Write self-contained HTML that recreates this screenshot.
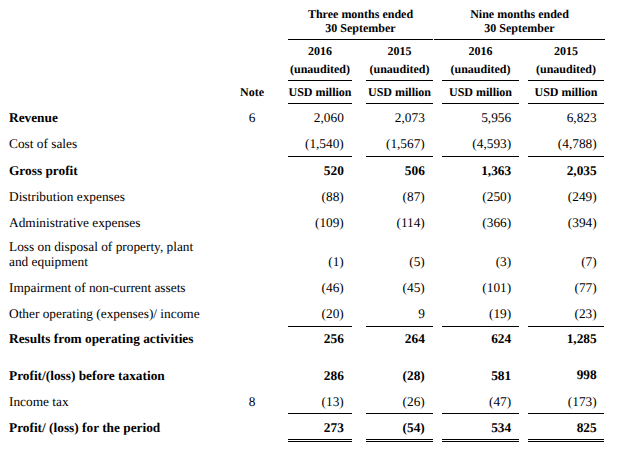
<!DOCTYPE html>
<html><head><meta charset="utf-8"><style>
html,body{margin:0;padding:0;background:#fff;}
body{width:621px;height:456px;position:relative;overflow:hidden;font-family:"Liberation Serif",serif;color:#000;}
.t{position:absolute;white-space:nowrap;text-rendering:geometricPrecision;}
.l{position:absolute;background:#000;}
</style></head><body>
<div class="t" style="top:6.8px;font-size:12px;line-height:14px;font-weight:bold;left:260.5px;width:200px;text-align:center;">Three months ended</div>
<div class="t" style="top:20.5px;font-size:12px;line-height:14px;font-weight:bold;left:260.5px;width:200px;text-align:center;">30 September</div>
<div class="t" style="top:6.8px;font-size:12px;line-height:14px;font-weight:bold;left:419.5px;width:200px;text-align:center;">Nine months ended</div>
<div class="t" style="top:20.5px;font-size:12px;line-height:14px;font-weight:bold;left:419.5px;width:200px;text-align:center;">30 September</div>
<div class="l" style="left:288px;top:39px;width:145px;height:1px"></div>
<div class="l" style="left:434px;top:39px;width:171px;height:1px"></div>
<div class="t" style="top:44px;font-size:12px;line-height:14px;font-weight:bold;left:220.0px;width:200px;text-align:center;">2016</div>
<div class="t" style="top:61.5px;font-size:12px;line-height:14px;font-weight:bold;left:220.0px;width:200px;text-align:center;">(unaudited)</div>
<div class="l" style="left:288px;top:80px;width:64px;height:1px"></div>
<div class="t" style="top:85px;font-size:12px;line-height:14px;font-weight:bold;left:220.0px;width:200px;text-align:center;">USD million</div>
<div class="l" style="left:288px;top:103px;width:64px;height:1px"></div>
<div class="t" style="top:44px;font-size:12px;line-height:14px;font-weight:bold;left:299.5px;width:200px;text-align:center;">2015</div>
<div class="t" style="top:61.5px;font-size:12px;line-height:14px;font-weight:bold;left:299.5px;width:200px;text-align:center;">(unaudited)</div>
<div class="l" style="left:366px;top:80px;width:67px;height:1px"></div>
<div class="t" style="top:85px;font-size:12px;line-height:14px;font-weight:bold;left:299.5px;width:200px;text-align:center;">USD million</div>
<div class="l" style="left:366px;top:103px;width:67px;height:1px"></div>
<div class="t" style="top:44px;font-size:12px;line-height:14px;font-weight:bold;left:380.5px;width:200px;text-align:center;">2016</div>
<div class="t" style="top:61.5px;font-size:12px;line-height:14px;font-weight:bold;left:380.5px;width:200px;text-align:center;">(unaudited)</div>
<div class="l" style="left:442px;top:80px;width:77px;height:1px"></div>
<div class="t" style="top:85px;font-size:12px;line-height:14px;font-weight:bold;left:380.5px;width:200px;text-align:center;">USD million</div>
<div class="l" style="left:442px;top:103px;width:77px;height:1px"></div>
<div class="t" style="top:44px;font-size:12px;line-height:14px;font-weight:bold;left:466.0px;width:200px;text-align:center;">2015</div>
<div class="t" style="top:61.5px;font-size:12px;line-height:14px;font-weight:bold;left:466.0px;width:200px;text-align:center;">(unaudited)</div>
<div class="l" style="left:528px;top:80px;width:76px;height:1px"></div>
<div class="t" style="top:85px;font-size:12px;line-height:14px;font-weight:bold;left:466.0px;width:200px;text-align:center;">USD million</div>
<div class="l" style="left:528px;top:103px;width:76px;height:1px"></div>
<div class="t" style="top:85px;font-size:12px;line-height:14px;font-weight:bold;left:152px;width:200px;text-align:center;">Note</div>
<div class="t" style="top:110px;font-size:13.33px;line-height:15px;font-weight:bold;left:9px;">Revenue</div>
<div class="t" style="top:110px;font-size:13.33px;line-height:15px;font-weight:normal;left:152px;width:200px;text-align:center;">6</div>
<div class="t" style="top:110px;font-size:13.33px;line-height:15px;font-weight:normal;right:277.2px;">2,060</div>
<div class="t" style="top:110px;font-size:13.33px;line-height:15px;font-weight:normal;right:196.2px;">2,073</div>
<div class="t" style="top:110px;font-size:13.33px;line-height:15px;font-weight:normal;right:109.8px;">5,956</div>
<div class="t" style="top:110px;font-size:13.33px;line-height:15px;font-weight:normal;right:24.3px;">6,823</div>
<div class="t" style="top:136px;font-size:13.33px;line-height:15px;font-weight:normal;left:9px;">Cost of sales</div>
<div class="t" style="top:136px;font-size:13.33px;line-height:15px;font-weight:normal;right:277.2px;">(1,540)</div>
<div class="t" style="top:136px;font-size:13.33px;line-height:15px;font-weight:normal;right:196.2px;">(1,567)</div>
<div class="t" style="top:136px;font-size:13.33px;line-height:15px;font-weight:normal;right:109.8px;">(4,593)</div>
<div class="t" style="top:136px;font-size:13.33px;line-height:15px;font-weight:normal;right:24.3px;">(4,788)</div>
<div class="t" style="top:163px;font-size:13.33px;line-height:15px;font-weight:bold;left:9px;">Gross profit</div>
<div class="t" style="top:163px;font-size:13.33px;line-height:15px;font-weight:bold;right:277.2px;">520</div>
<div class="t" style="top:163px;font-size:13.33px;line-height:15px;font-weight:bold;right:196.2px;">506</div>
<div class="t" style="top:163px;font-size:13.33px;line-height:15px;font-weight:bold;right:109.8px;">1,363</div>
<div class="t" style="top:163px;font-size:13.33px;line-height:15px;font-weight:bold;right:24.3px;">2,035</div>
<div class="t" style="top:189px;font-size:13.33px;line-height:15px;font-weight:normal;left:9px;">Distribution expenses</div>
<div class="t" style="top:189px;font-size:13.33px;line-height:15px;font-weight:normal;right:277.2px;">(88)</div>
<div class="t" style="top:189px;font-size:13.33px;line-height:15px;font-weight:normal;right:196.2px;">(87)</div>
<div class="t" style="top:189px;font-size:13.33px;line-height:15px;font-weight:normal;right:109.8px;">(250)</div>
<div class="t" style="top:189px;font-size:13.33px;line-height:15px;font-weight:normal;right:24.3px;">(249)</div>
<div class="t" style="top:215px;font-size:13.33px;line-height:15px;font-weight:normal;left:9px;">Administrative expenses</div>
<div class="t" style="top:215px;font-size:13.33px;line-height:15px;font-weight:normal;right:277.2px;">(109)</div>
<div class="t" style="top:215px;font-size:13.33px;line-height:15px;font-weight:normal;right:196.2px;">(114)</div>
<div class="t" style="top:215px;font-size:13.33px;line-height:15px;font-weight:normal;right:109.8px;">(366)</div>
<div class="t" style="top:215px;font-size:13.33px;line-height:15px;font-weight:normal;right:24.3px;">(394)</div>
<div class="t" style="top:239px;font-size:13.33px;line-height:15px;font-weight:normal;left:9px;">Loss on disposal of property, plant</div>
<div class="t" style="top:254px;font-size:13.33px;line-height:15px;font-weight:normal;left:9px;">and equipment</div>
<div class="t" style="top:254px;font-size:13.33px;line-height:15px;font-weight:normal;right:277.2px;">(1)</div>
<div class="t" style="top:254px;font-size:13.33px;line-height:15px;font-weight:normal;right:196.2px;">(5)</div>
<div class="t" style="top:254px;font-size:13.33px;line-height:15px;font-weight:normal;right:109.8px;">(3)</div>
<div class="t" style="top:254px;font-size:13.33px;line-height:15px;font-weight:normal;right:24.3px;">(7)</div>
<div class="t" style="top:280px;font-size:13.33px;line-height:15px;font-weight:normal;left:9px;">Impairment of non-current assets</div>
<div class="t" style="top:280px;font-size:13.33px;line-height:15px;font-weight:normal;right:277.2px;">(46)</div>
<div class="t" style="top:280px;font-size:13.33px;line-height:15px;font-weight:normal;right:196.2px;">(45)</div>
<div class="t" style="top:280px;font-size:13.33px;line-height:15px;font-weight:normal;right:109.8px;">(101)</div>
<div class="t" style="top:280px;font-size:13.33px;line-height:15px;font-weight:normal;right:24.3px;">(77)</div>
<div class="t" style="top:306px;font-size:13.33px;line-height:15px;font-weight:normal;left:9px;">Other operating (expenses)/ income</div>
<div class="t" style="top:306px;font-size:13.33px;line-height:15px;font-weight:normal;right:277.2px;">(20)</div>
<div class="t" style="top:306px;font-size:13.33px;line-height:15px;font-weight:normal;right:196.2px;">9</div>
<div class="t" style="top:306px;font-size:13.33px;line-height:15px;font-weight:normal;right:109.8px;">(19)</div>
<div class="t" style="top:306px;font-size:13.33px;line-height:15px;font-weight:normal;right:24.3px;">(23)</div>
<div class="t" style="top:331px;font-size:13.33px;line-height:15px;font-weight:bold;left:9px;">Results from operating activities</div>
<div class="t" style="top:331px;font-size:13.33px;line-height:15px;font-weight:bold;right:277.2px;">256</div>
<div class="t" style="top:331px;font-size:13.33px;line-height:15px;font-weight:bold;right:196.2px;">264</div>
<div class="t" style="top:331px;font-size:13.33px;line-height:15px;font-weight:bold;right:109.8px;">624</div>
<div class="t" style="top:331px;font-size:13.33px;line-height:15px;font-weight:bold;right:24.3px;">1,285</div>
<div class="t" style="top:368px;font-size:13.33px;line-height:15px;font-weight:bold;left:9px;">Profit/(loss) before taxation</div>
<div class="t" style="top:368px;font-size:13.33px;line-height:15px;font-weight:bold;right:277.2px;">286</div>
<div class="t" style="top:368px;font-size:13.33px;line-height:15px;font-weight:bold;right:196.2px;">(28)</div>
<div class="t" style="top:368px;font-size:13.33px;line-height:15px;font-weight:bold;right:109.8px;">581</div>
<div class="t" style="top:367px;font-size:13.33px;line-height:15px;font-weight:bold;right:24.3px;">998</div>
<div class="t" style="top:394px;font-size:13.33px;line-height:15px;font-weight:normal;left:9px;">Income tax</div>
<div class="t" style="top:394px;font-size:13.33px;line-height:15px;font-weight:normal;left:152px;width:200px;text-align:center;">8</div>
<div class="t" style="top:394px;font-size:13.33px;line-height:15px;font-weight:normal;right:277.2px;">(13)</div>
<div class="t" style="top:394px;font-size:13.33px;line-height:15px;font-weight:normal;right:196.2px;">(26)</div>
<div class="t" style="top:394px;font-size:13.33px;line-height:15px;font-weight:normal;right:109.8px;">(47)</div>
<div class="t" style="top:394px;font-size:13.33px;line-height:15px;font-weight:normal;right:24.3px;">(173)</div>
<div class="t" style="top:420px;font-size:13.33px;line-height:15px;font-weight:bold;left:9px;">Profit/ (loss) for the period</div>
<div class="t" style="top:420px;font-size:13.33px;line-height:15px;font-weight:bold;right:277.2px;">273</div>
<div class="t" style="top:420px;font-size:13.33px;line-height:15px;font-weight:bold;right:196.2px;">(54)</div>
<div class="t" style="top:420px;font-size:13.33px;line-height:15px;font-weight:bold;right:109.8px;">534</div>
<div class="t" style="top:420px;font-size:13.33px;line-height:15px;font-weight:bold;right:24.3px;">825</div>
<div class="l" style="left:288px;top:156px;width:64px;height:1px"></div>
<div class="l" style="left:288px;top:326px;width:64px;height:1px"></div>
<div class="l" style="left:288px;top:413px;width:64px;height:1px"></div>
<div class="l" style="left:288px;top:439px;width:64px;height:1px"></div>
<div class="l" style="left:288px;top:441px;width:64px;height:1px"></div>
<div class="l" style="left:366px;top:156px;width:67px;height:1px"></div>
<div class="l" style="left:366px;top:326px;width:67px;height:1px"></div>
<div class="l" style="left:366px;top:413px;width:67px;height:1px"></div>
<div class="l" style="left:366px;top:439px;width:67px;height:1px"></div>
<div class="l" style="left:366px;top:441px;width:67px;height:1px"></div>
<div class="l" style="left:442px;top:156px;width:77px;height:1px"></div>
<div class="l" style="left:442px;top:326px;width:77px;height:1px"></div>
<div class="l" style="left:442px;top:413px;width:77px;height:1px"></div>
<div class="l" style="left:442px;top:439px;width:77px;height:1px"></div>
<div class="l" style="left:442px;top:441px;width:77px;height:1px"></div>
<div class="l" style="left:528px;top:156px;width:76px;height:1px"></div>
<div class="l" style="left:528px;top:326px;width:76px;height:1px"></div>
<div class="l" style="left:528px;top:413px;width:76px;height:1px"></div>
<div class="l" style="left:528px;top:439px;width:76px;height:1px"></div>
<div class="l" style="left:528px;top:441px;width:76px;height:1px"></div>
</body></html>
